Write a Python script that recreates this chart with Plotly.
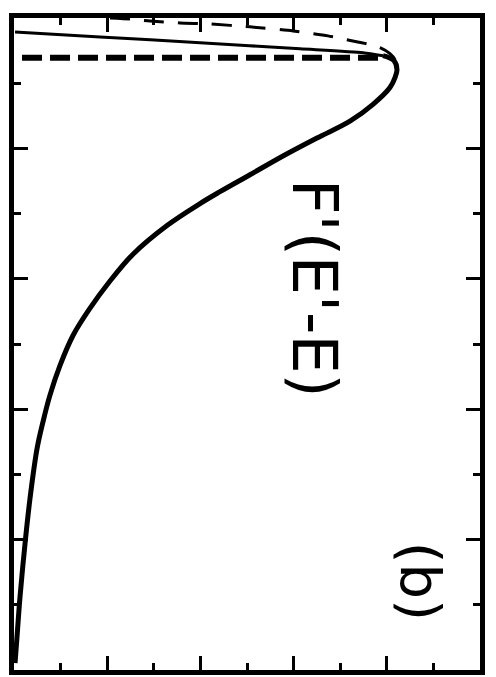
import plotly.graph_objects as go

# Main solid curve (image orientation: horizontal = F', vertical = energy)
main_f = [0.011, 0.032, 0.064, 0.118, 0.172, 0.247, 0.311, 0.386, 0.494, 0.633, 0.805,
          1.030, 1.277, 1.642, 1.996, 2.210, 2.532, 2.886, 3.251, 3.605, 3.852, 4.034,
          4.088, 4.109, 4.077, 3.959]
main_e = [0.053, 0.251, 0.556, 0.967, 1.317, 1.697, 1.903, 2.108, 2.336, 2.565, 2.763,
          2.983, 3.189, 3.409, 3.577, 3.668, 3.798, 3.942, 4.080, 4.209, 4.338, 4.467,
          4.543, 4.604, 4.673, 4.711]

# Sharp rising edge (thin solid)
edge_f = [3.959, 3.745, 3.069, 1.996, 0.923, 0.011]
edge_e = [4.711, 4.734, 4.764, 4.810, 4.855, 4.893]

# Alternative edge (long dashes)
alt_f = [1.030, 1.245, 1.459, 1.781, 2.103, 2.532, 2.994, 3.369, 3.573, 3.788, 3.927, 4.034, 4.088, 4.109]
alt_e = [5.000, 4.992, 4.977, 4.962, 4.954, 4.932, 4.901, 4.863, 4.833, 4.802, 4.772, 4.726, 4.680, 4.604]

# Threshold (short dashes)
thr_f = [0.086, 3.96]
thr_e = [4.696, 4.696]

fig = go.Figure()
fig.add_trace(go.Scatter(x=main_f, y=main_e, mode="lines", line=dict(color="black", width=5, shape="spline", smoothing=1.0)))
fig.add_trace(go.Scatter(x=edge_f, y=edge_e, mode="lines", line=dict(color="black", width=3, shape="spline", smoothing=0.6)))
fig.add_trace(go.Scatter(x=alt_f, y=alt_e, mode="lines", line=dict(color="black", width=3, dash="20px,14px", shape="spline", smoothing=0.6)))
fig.add_trace(go.Scatter(x=thr_f, y=thr_e, mode="lines", line=dict(color="black", width=6, dash="20px,8px")))

fig.add_annotation(x=3.219, y=2.93, text="F'(E'-E)", textangle=90, showarrow=False,
                   font=dict(family="DejaVu Sans", size=62, color="black"))
fig.add_annotation(x=4.356, y=0.677, text="(b)", textangle=90, showarrow=False,
                   font=dict(family="DejaVu Sans", size=56, color="black"))

axis_common = dict(range=[0, 5], showgrid=False, zeroline=False, showticklabels=False,
                   showline=True, linecolor="black", linewidth=5, mirror="ticks",
                   ticks="inside", ticklen=14, tickwidth=3, tickcolor="black", dtick=1, tick0=0,
                   minor=dict(dtick=0.5, tick0=0, ticks="inside", ticklen=7, tickwidth=3, tickcolor="black"))
fig.update_xaxes(**axis_common)
fig.update_yaxes(**axis_common)
# page body has an 8px default margin; figure sized to fit the 496x677 window
fig.update_layout(width=488, height=669, margin=dict(l=6, r=16, t=5, b=7),
                  showlegend=False, plot_bgcolor="white", paper_bgcolor="white")
fig.write_html("out.html")
